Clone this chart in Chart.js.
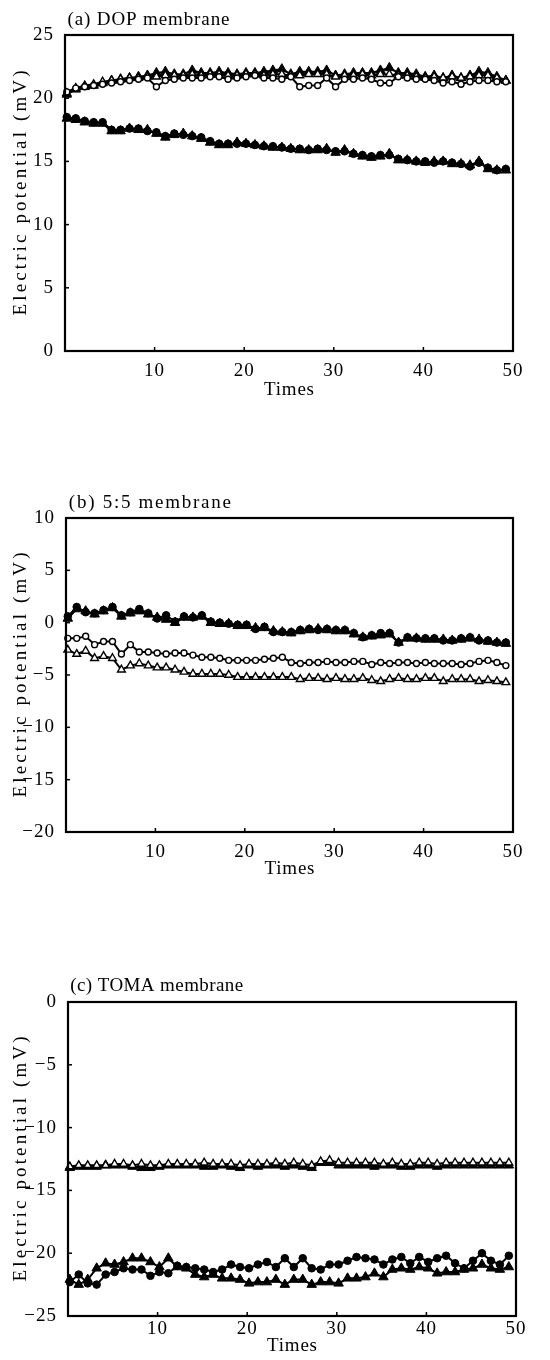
<!DOCTYPE html>
<html>
<head>
<meta charset="utf-8">
<script src="https://cdn.jsdelivr.net/npm/chart.js@4.4.1/dist/chart.umd.min.js"></script>
<style>
html, body { margin: 0; padding: 0; background: #fff; }
#wrap { position: relative; width: 550px; height: 1360px; }
canvas { position: absolute; left: 0; }
</style>
</head>
<body>
<div id="wrap">
  <canvas id="G1" width="550" height="420" style="top:0px"></canvas>
  <canvas id="G2" width="550" height="430" style="top:470px"></canvas>
  <canvas id="G3" width="550" height="410" style="top:950px"></canvas>
</div>
<script>
// measurement number 1..50
const times = Array.from({ length: 50 }, (_, i) => i + 1);

// (a) DOP membrane
const aTopTri = [20.3,20.7,20.9,21.0,21.2,21.4,21.5,21.6,21.7,21.8,22.0,22.1,21.9,21.9,22.2,22.0,22.0,22.1,22.0,21.9,22.0,22.0,22.1,22.2,22.3,21.9,22.1,22.1,22.1,22.2,21.8,21.9,22.0,22.0,22.0,22.2,22.4,22.0,22.0,21.9,21.7,21.8,21.6,21.8,21.6,21.8,22.1,22.0,21.7,21.4];
const aTopOpenTri = [20.4,20.8,21.0,21.1,21.3,21.4,21.5,21.6,21.6,21.7,21.7,21.8,21.8,21.8,21.9,21.8,21.9,21.9,21.8,21.8,21.9,21.9,21.8,21.9,21.9,21.8,21.8,21.9,21.9,21.9,21.7,21.8,21.8,21.9,21.8,21.9,21.9,21.8,21.8,21.7,21.6,21.7,21.6,21.7,21.6,21.7,21.8,21.8,21.6,21.4];
const aTopCirc = [20.5,20.8,20.9,21.0,21.1,21.2,21.3,21.4,21.5,21.6,20.9,21.4,21.5,21.6,21.6,21.6,21.7,21.7,21.5,21.6,21.7,21.8,21.6,21.6,21.5,21.7,20.9,21.0,21.0,21.6,20.9,21.5,21.5,21.6,21.5,21.2,21.2,21.7,21.6,21.5,21.5,21.4,21.2,21.3,21.1,21.3,21.4,21.4,21.3,21.3];
const aBotTri = [18.4,18.3,18.1,18.0,18.0,17.4,17.4,17.6,17.5,17.5,17.2,16.9,17.1,17.2,17.0,16.8,16.5,16.3,16.3,16.5,16.4,16.3,16.2,16.1,16.1,16.0,15.9,15.9,15.9,16.0,15.7,15.9,15.6,15.4,15.3,15.4,15.6,15.1,15.1,15.0,14.9,15.0,15.0,14.8,14.8,14.7,15.0,14.4,14.3,14.3];
const aBotDot = [18.5,18.4,18.2,18.1,18.1,17.5,17.5,17.6,17.6,17.4,17.3,17.0,17.2,17.1,17.0,16.9,16.6,16.4,16.4,16.4,16.4,16.3,16.2,16.2,16.1,16.0,16.0,15.9,16.0,15.9,15.8,15.8,15.6,15.5,15.4,15.5,15.5,15.2,15.1,15.0,15.0,14.9,15.0,14.9,14.8,14.6,14.9,14.5,14.3,14.4];

// (b) 5:5 membrane
const bTopDot = [0.6,1.5,1.0,0.9,1.2,1.5,0.7,1.0,1.3,0.9,0.4,0.7,0.1,0.6,0.5,0.7,0.1,0.0,-0.1,-0.2,-0.2,-0.6,-0.4,-0.9,-0.9,-0.9,-0.7,-0.6,-0.7,-0.6,-0.7,-0.7,-1.0,-1.4,-1.2,-1.0,-1.0,-1.9,-1.4,-1.5,-1.5,-1.5,-1.7,-1.7,-1.5,-1.4,-1.7,-1.7,-1.9,-1.9];
const bTopTri = [0.4,1.3,1.1,0.8,1.1,1.4,0.6,0.9,1.1,0.8,0.5,0.3,0.0,0.5,0.5,0.6,0.0,-0.1,-0.1,-0.3,-0.3,-0.5,-0.5,-0.8,-0.9,-1.0,-0.8,-0.7,-0.6,-0.7,-0.8,-0.8,-1.1,-1.4,-1.3,-1.2,-1.1,-1.9,-1.5,-1.5,-1.6,-1.6,-1.6,-1.7,-1.6,-1.5,-1.6,-1.8,-1.9,-2.0];
const bCirc = [-1.5,-1.5,-1.3,-2.1,-1.8,-1.8,-3.0,-2.1,-2.8,-2.8,-2.9,-3.0,-2.9,-2.9,-3.1,-3.3,-3.3,-3.4,-3.6,-3.6,-3.6,-3.6,-3.5,-3.4,-3.3,-3.8,-3.9,-3.8,-3.8,-3.7,-3.8,-3.8,-3.7,-3.7,-4.0,-3.8,-3.9,-3.8,-3.8,-3.9,-3.8,-3.9,-3.9,-3.9,-4.0,-3.9,-3.7,-3.6,-3.8,-4.1];
const bOpenTri = [-2.6,-3.0,-2.7,-3.4,-3.2,-3.4,-4.5,-4.1,-3.9,-4.1,-4.3,-4.3,-4.5,-4.7,-4.9,-4.9,-4.9,-4.9,-5.0,-5.2,-5.2,-5.2,-5.2,-5.2,-5.2,-5.2,-5.4,-5.3,-5.3,-5.4,-5.3,-5.4,-5.4,-5.3,-5.5,-5.6,-5.4,-5.3,-5.4,-5.4,-5.3,-5.3,-5.6,-5.4,-5.4,-5.4,-5.6,-5.5,-5.6,-5.7];

// (c) TOMA membrane
const cTopOpenTri = [-13.1,-13.0,-13.0,-13.0,-13.0,-12.9,-12.9,-13.0,-12.9,-13.0,-13.0,-12.9,-12.9,-12.9,-12.9,-12.8,-12.9,-12.9,-12.9,-13.0,-12.9,-12.9,-12.9,-12.8,-12.9,-12.8,-12.9,-13.0,-12.7,-12.6,-12.8,-12.8,-12.8,-12.8,-12.8,-12.9,-12.8,-12.9,-12.9,-12.8,-12.8,-12.9,-12.8,-12.8,-12.8,-12.8,-12.8,-12.8,-12.8,-12.8];
const cTopTri = [-13.2,-13.1,-13.1,-13.1,-13.0,-13.0,-13.0,-13.1,-13.2,-13.2,-13.1,-13.0,-13.0,-13.0,-13.0,-13.1,-13.1,-13.0,-13.1,-13.2,-13.0,-13.1,-13.0,-13.0,-13.1,-13.0,-13.1,-13.2,-12.8,-12.8,-13.0,-13.0,-13.0,-13.0,-13.1,-13.0,-13.0,-13.1,-13.1,-13.0,-13.0,-13.1,-13.0,-13.0,-13.0,-13.0,-13.0,-13.0,-13.0,-13.0];
const cBotDot = [-22.3,-21.7,-22.4,-22.5,-21.7,-21.5,-21.2,-21.3,-21.3,-21.8,-21.5,-21.6,-21.0,-21.1,-21.2,-21.3,-21.5,-21.3,-20.9,-21.1,-21.2,-20.9,-20.7,-21.1,-20.4,-21.1,-20.4,-21.2,-21.3,-20.9,-20.9,-20.6,-20.3,-20.4,-20.5,-20.9,-20.5,-20.3,-20.8,-20.3,-20.7,-20.4,-20.2,-20.8,-21.2,-20.6,-20.0,-20.6,-20.9,-20.2];
const cBotTri = [-22.1,-22.5,-22.1,-21.2,-20.8,-20.9,-20.7,-20.4,-20.4,-20.7,-21.1,-20.4,-21.1,-21.2,-21.7,-21.9,-21.7,-22.0,-22.0,-22.1,-22.4,-22.3,-22.3,-22.1,-22.5,-22.1,-22.1,-22.5,-22.3,-22.3,-22.4,-22.0,-22.0,-21.9,-21.6,-21.9,-21.3,-21.2,-21.3,-21.1,-21.2,-21.6,-21.5,-21.5,-21.3,-21.2,-20.9,-21.2,-21.3,-21.1];

const FONT = '"Liberation Serif", "DejaVu Serif", serif';

const marks = {
  tri:     { pointStyle: 'triangle', pointRadius: 5.5, pointBackgroundColor: '#000', pointBorderColor: '#000', pointBorderWidth: 1 },
  openTri: { pointStyle: 'triangle', pointRadius: 4.5, pointBackgroundColor: '#fff', pointBorderColor: '#000', pointBorderWidth: 1.4 },
  dot:     { pointStyle: 'circle',   pointRadius: 3.8, pointBackgroundColor: '#000', pointBorderColor: '#000', pointBorderWidth: 1 },
  circ:    { pointStyle: 'circle',   pointRadius: 3,   pointBackgroundColor: '#fff', pointBorderColor: '#000', pointBorderWidth: 1.4 }
};

function series(values, mark) {
  return Object.assign({
    data: values.map((v, i) => ({ x: times[i] - 0.8, y: v })),
    borderColor: '#000',
    borderWidth: 2,
    fill: false,
    tension: 0,
    clip: 5
  }, marks[mark]);
}

function minus(v) { return v < 0 ? '\u2212' + Math.abs(v) : String(v); }

function spacedText(ctx, txt, x, y, w) {
  ctx.letterSpacing = '0px';
  const m = ctx.measureText(txt).width;
  const ls = (w - m) / (txt.length - 1);
  ctx.letterSpacing = ls + 'px';
  ctx.fillText(txt, x + ls / 2, y);
}

function panel(id, g) {
  const decor = {
    id: 'decor',
    beforeDraw(c) { c.ctx.letterSpacing = '1px'; },
    afterDraw(c) {
      const { ctx, chartArea: a, scales } = c;
      ctx.save();
      ctx.strokeStyle = '#000';
      ctx.lineWidth = 2.2;
      ctx.strokeRect(a.left, a.top, a.right - a.left, a.bottom - a.top);
      ctx.lineWidth = 1.5;
      scales.y.ticks.forEach(t => {
        const y = scales.y.getPixelForValue(t.value);
        ctx.beginPath(); ctx.moveTo(a.left, y); ctx.lineTo(a.left + 4, y); ctx.stroke();
      });
      scales.x.ticks.forEach(t => {
        const x = scales.x.getPixelForValue(t.value);
        ctx.beginPath(); ctx.moveTo(x, a.bottom); ctx.lineTo(x, a.bottom - 4); ctx.stroke();
      });
      ctx.fillStyle = '#000';
      ctx.font = '19px ' + FONT;
      ctx.textBaseline = 'middle';
      ctx.textAlign = 'left';
      spacedText(ctx, g.title, a.left + 2, g.titleY, g.titleW);
      ctx.textAlign = 'center';
      spacedText(ctx, 'Times', (a.left + a.right) / 2, g.timesY, 50);
      ctx.translate(21, (a.top + a.bottom) / 2);
      ctx.rotate(-Math.PI / 2);
      spacedText(ctx, 'Electric potential (mV)', 0, 0, 245);
      ctx.restore();
    }
  };

  new Chart(document.getElementById(id), {
    type: 'line',
    data: { datasets: g.datasets },
    options: {
      responsive: false,
      animation: false,
      events: [],
      layout: { padding: { top: g.top, right: 550 - g.right, left: 0, bottom: 0 } },
      plugins: { legend: { display: false }, tooltip: { enabled: false }, title: { display: false } },
      scales: {
        x: {
          type: 'linear', min: 0, max: 50,
          grid: { display: false }, border: { display: false },
          ticks: { stepSize: 10, maxRotation: 0, padding: g.tickPad, color: '#000',
                   font: { family: FONT, size: 19 }, callback: v => v === 0 ? '' : String(v) },
          afterFit: s => { s.height = g.h - g.bottom; }
        },
        y: {
          min: g.ymin, max: g.ymax,
          grid: { display: false }, border: { display: false },
          ticks: { stepSize: 5, padding: 3, color: '#000', font: { family: FONT, size: 19 }, callback: minus },
          afterFit: s => { s.width = g.left; }
        }
      }
    },
    plugins: [decor]
  });
}

panel('G1', {
  title: '(a) DOP membrane', titleW: 162, titleY: 20, timesY: 390,
  h: 420, left: 65, right: 513, top: 35, bottom: 351, tickPad: 1, ymin: 0, ymax: 25,
  datasets: [series(aTopCirc, 'circ'), series(aTopOpenTri, 'openTri'), series(aTopTri, 'tri'),
             series(aBotDot, 'dot'), series(aBotTri, 'tri')]
});

panel('G2', {
  title: '(b) 5:5 membrane', titleW: 162, titleY: 33, timesY: 399,
  h: 430, left: 66, right: 513, top: 48, bottom: 362, tickPad: 1, ymin: -20, ymax: 10,
  datasets: [series(bCirc, 'circ'), series(bOpenTri, 'openTri'),
             series(bTopDot, 'dot'), series(bTopTri, 'tri')]
});

panel('G3', {
  title: '(c) TOMA membrane', titleW: 173, titleY: 36, timesY: 396,
  h: 410, left: 68, right: 516, top: 52, bottom: 366, tickPad: -6, ymin: -25, ymax: 0,
  datasets: [series(cTopOpenTri, 'openTri'), series(cTopTri, 'tri'),
             series(cBotDot, 'dot'), series(cBotTri, 'tri')]
});
</script>
</body>
</html>
